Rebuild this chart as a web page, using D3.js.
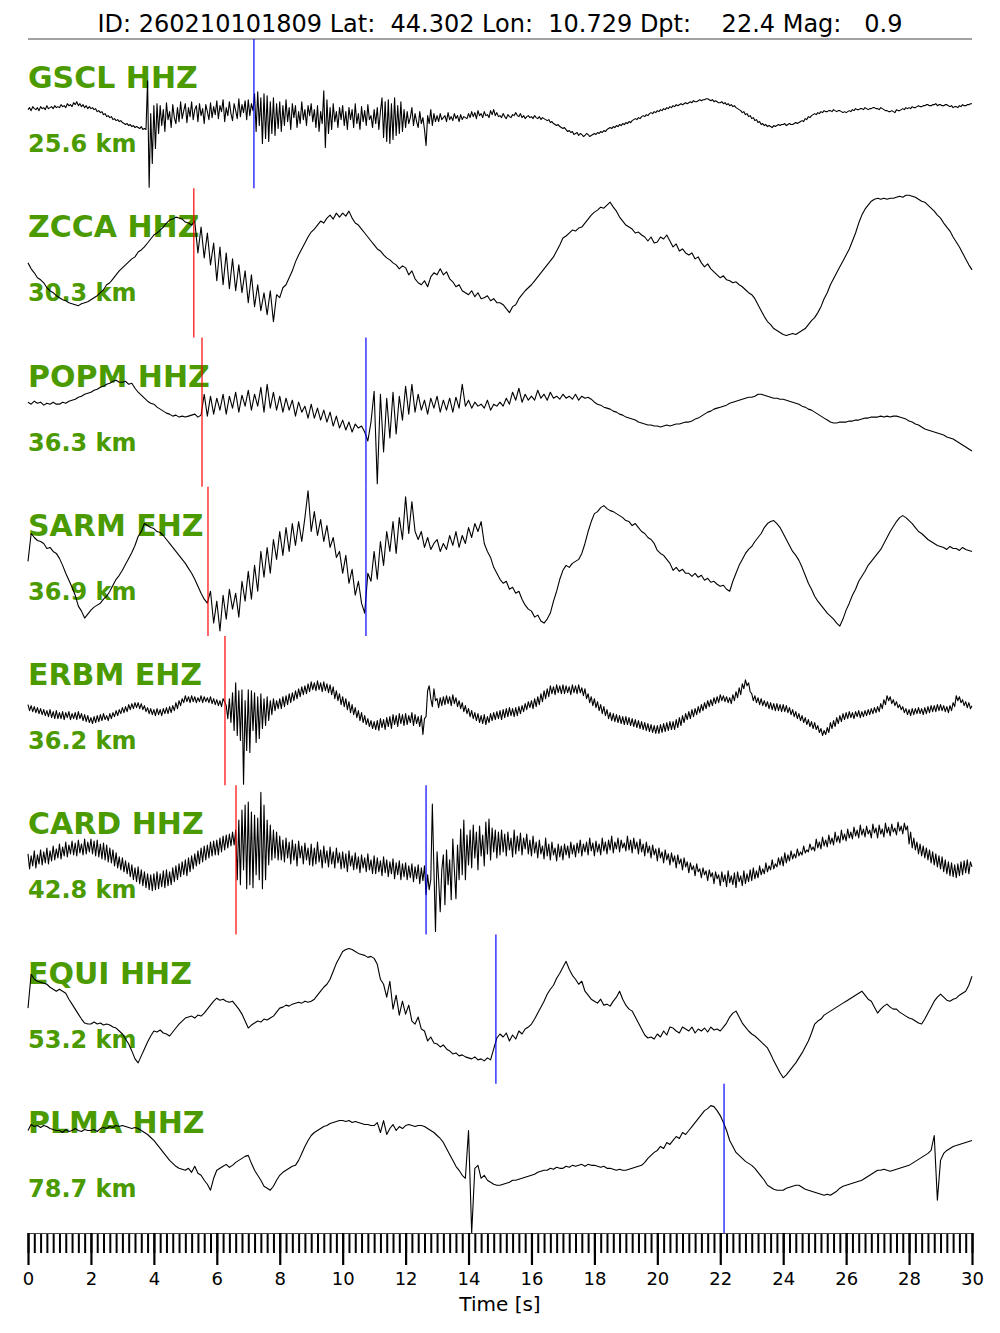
<!DOCTYPE html>
<html><head><meta charset="utf-8">
<script src="https://cdn.jsdelivr.net/npm/d3@7"></script>
<style>body{margin:0;background:#fff} svg{display:block}</style>
</head><body>
<svg id="chart" width="1000" height="1333"></svg>
<script>
const titleText = "ID: 260210101809 Lat:  44.302 Lon:  10.729 Dpt:    22.4 Mag:   0.9";
const stations = ["GSCL HHZ","ZCCA HHZ","POPM HHZ","SARM EHZ","ERBM EHZ","CARD HHZ","EQUI HHZ","PLMA HHZ"];
const distances = ["25.6 km","30.3 km","36.3 km","36.9 km","36.2 km","42.8 km","53.2 km","78.7 km"];
const pPicks = [null, 5.27, 5.53, 5.72, 6.26, 6.61, null, null];
const sPicks = [7.18, null, 10.74, 10.74, null, 12.65, 14.87, 22.12];
const tickLabels = [0,2,4,6,8,10,12,14,16,18,20,22,24,26,28,30];
const timeLabel = "Time [s]";

const traceGSCL = [
4,6,3,7,5,4,6,3,7,5,6,4,8,5,6,7,5,8,6,7,
6,9,7,8,6,10,8,9,7,11,9,12,8,10,7,9,6,8,5,7,
5,6,4,5,2,3,1,2,-1,0,-3,-2,-4,-3,-6,-5,-7,-6,-8,-7,
-9,-10,-11,-10,-12,-11,-13,-12,-14,-13,-14,-15,-13,-16,-15,-16,33,-74,0,-50,
8,-35,10,-20,8,-12,4,-18,11,-6,2,-14,9,-4,-10,6,-8,12,-5,3,
10,-9,6,-3,12,-6,4,8,-8,10,-2,5,-10,9,2,-6,11,-4,7,-1,
13,-5,8,2,14,-8,6,-2,12,0,-7,10,3,-5,15,-3,9,1,13,-6,
14,-2,10,3,20,-18,22,-12,16,-30,20,-25,18,-28,12,-20,16,-22,10,-15,
12,-18,8,-12,14,-8,6,-16,10,-4,8,-14,2,-10,12,-6,4,-12,8,-2,
10,-8,4,-14,8,-18,2,-10,23,-34,14,-20,6,-16,10,-8,2,-14,6,-6,
8,-12,2,-16,6,-6,4,-14,10,-10,0,-16,7,-8,3,-12,9,-6,-2,-14,
4,-10,6,-16,2,16,-24,12,-28,14,-30,10,-26,16,-22,8,-20,12,-18,4,
-14,2,-10,-4,6,-12,0,-8,-14,2,-10,-4,-16,-32,-2,-10,4,-12,0,-8,
-2,-8,0,-6,-4,-2,-8,1,-6,-3,-7,0,-5,-2,-8,-1,-6,-3,-4,-5,
0,-4,2,-3,1,-5,3,-2,0,-4,2,-2,-1,-4,3,-1,4,-2,1,-3,
-2,-4,0,-3,-5,-1,-3,-4,-1,-2,1,-2,-3,0,-4,-2,-5,-3,-2,-4,
-3,-5,-2,-4,-5,-3,-6,-4,-5,-6,-7,-6,-9,-8,-10,-11,-12,-11,-13,-14,
-15,-14,-16,-18,-17,-19,-18,-21,-20,-19,-22,-20,-21,-23,-22,-20,-21,-23,-22,-21,
-20,-21,-19,-20,-18,-19,-17,-18,-16,-15,-14,-15,-13,-14,-12,-13,-11,-12,-10,-11,
-9,-10,-8,-9,-7,-6,-5,-6,-4,-5,-3,-2,-3,-1,-2,0,1,0,2,1,
3,2,4,3,5,4,6,5,7,6,8,7,9,8,9,10,9,10,11,10,
11,12,11,13,12,12,13,14,13,14,14,15,15,14,13,14,12,13,12,11,
11,12,10,11,9,10,8,9,7,8,6,5,4,3,1,2,-1,0,-3,-2,
-5,-4,-7,-6,-9,-8,-11,-10,-12,-11,-13,-12,-13,-14,-12,-13,-12,-11,-12,-11,
-11,-10,-12,-11,-10,-11,-11,-10,-9,-10,-9,-8,-7,-8,-5,-6,-3,-4,-2,-1,
0,-1,1,0,2,1,3,2,2,3,3,2,4,3,2,3,3,2,1,2,
1,2,3,2,4,3,5,4,4,5,5,4,6,5,4,5,5,6,6,5,
5,4,6,5,4,3,3,2,2,3,2,1,4,3,3,4,5,4,6,5,
6,5,7,6,6,7,8,7,7,8,8,9,9,8,8,9,9,10,8,9,
9,8,8,9,9,8,7,8,6,7,7,6,8,7,9,8,8,9,9,10,
10];

const traceZCCA = [
0,-6,-10,-15,-17,-20,-25,-28,-30,-33,
-35,-37,-38,-40,-41,-42,-43,-41,-40,-39,
-37,-35,-33,-30,-27,-22,-20,-16,-12,-8,
-5,-2,1,4,6,11,13,16,20,24,
28,30,33,36,40,43,44,46,45,44,
41,40,38,42,10,36,5,30,-2,20,
-18,16,-22,10,-26,4,-28,-2,-30,-8,
-40,-12,-44,-22,-48,-30,-52,-28,-59,-32,
-35,-25,-22,-15,-8,1,8,14,20,26,
31,34,38,42,40,45,48,44,50,46,
50,47,52,45,40,38,34,30,26,22,
18,14,12,8,5,3,0,-2,-6,-3,
-5,-12,-8,-16,-20,-22,-18,-24,-14,-10,
-12,-6,-12,-9,-16,-19,-24,-22,-28,-30,
-32,-28,-34,-30,-36,-35,-33,-38,-36,-40,
-40,-42,-46,-50,-44,-42,-36,-32,-28,-25,
-22,-18,-14,-10,-6,-2,2,6,12,18,
25,27,30,33,32,35,36,40,44,48,
51,53,56,55,58,61,56,52,46,42,
38,36,34,30,31,28,26,22,26,20,
21,26,24,28,22,16,19,12,14,10,
8,10,4,6,0,-4,-1,-6,-9,-12,
-15,-13,-17,-18,-20,-19,-22,-24,-27,-30,
-32,-36,-42,-48,-54,-59,-62,-66,-68,-70,
-72,-73,-72,-71,-72,-70,-68,-66,-62,-58,
-55,-50,-44,-36,-30,-22,-16,-10,-4,2,
8,14,22,30,40,48,54,58,62,64,
65,64,65,64,65,65,66,67,66,68,
68,67,66,64,62,61,58,55,52,48,
45,40,36,32,26,21,16,10,4,-2,
-7];

const tracePOPM = [
10,8,11,9,10,7,9,8,10,8,
8,10,9,11,12,13,15,16,18,19,
20,22,23,25,26,28,29,31,32,30,
30,31,28,29,24,20,17,14,11,9,
8,5,3,1,-1,-2,-4,-3,-5,-4,
-5,-4,-3,-2,-5,-3,18,-4,16,-2,
14,2,18,-2,16,4,20,0,17,6,
22,2,18,6,25,0,28,4,20,2,
16,0,14,2,12,-4,10,0,6,-6,
8,-6,4,-8,2,-10,0,-14,-4,-16,
-8,-18,-10,-20,-12,-16,-14,-20,-29,-10,
21,-72,18,-40,14,-26,20,-22,16,-8,
26,-2,28,0,18,2,12,-2,14,4,
16,0,12,2,14,0,15,4,28,6,
12,4,10,6,8,4,12,2,8,6,
10,6,14,8,20,12,24,10,18,12,
16,12,22,14,18,12,20,14,16,13,
18,14,16,13,18,12,16,14,15,13,
10,8,7,5,4,3,1,0,-2,-3,
-5,-6,-7,-8,-10,-11,-12,-13,-13,-14,
-14,-15,-14,-13,-14,-13,-12,-12,-11,-10,
-10,-9,-7,-6,-4,-2,0,1,3,4,
5,6,7,9,10,11,12,13,14,15,
15,16,18,18,17,16,15,14,14,13,
13,12,11,10,9,8,6,5,3,2,
0,-2,-4,-6,-8,-10,-11,-11,-10,-10,
-10,-9,-9,-8,-8,-7,-6,-6,-5,-5,
-5,-4,-5,-4,-5,-4,-4,-5,-6,-7,
-9,-10,-12,-13,-15,-17,-18,-19,-20,-21,
-22,-23,-25,-26,-27,-29,-31,-33,-35,-37,
-39];

const traceSARM = [
0,28,24,21,20,18,13,14,10,8,
3,-4,-12,-19,-26,-34,-45,-50,-57,-53,
-49,-46,-44,-42,-38,-35,-30,-24,-18,-14,
-9,-3,3,9,16,25,30,38,36,34,
33,30,29,26,22,18,14,10,6,2,
-2,-7,-12,-18,-25,-32,-38,-42,-30,-62,
-40,-70,-34,-58,-28,-48,-32,-56,-20,-40,
-10,-38,-4,-30,10,-16,14,-12,22,2,
30,6,34,10,38,16,40,20,44,71,
30,50,26,42,20,36,14,24,4,10,
-12,6,-22,-8,-34,-20,-42,-52,-12,-20,
10,-18,20,-4,30,10,40,8,44,22,
65,28,60,30,22,30,14,24,12,18,
22,10,18,12,26,16,30,14,26,18,
34,24,38,30,40,18,10,4,-6,-12,
-18,-22,-20,-28,-26,-32,-30,-38,-44,-48,
-50,-56,-54,-60,-62,-58,-52,-40,-30,-18,
-9,-4,-6,-2,0,2,8,18,30,40,
48,50,54,56,53,51,50,48,46,44,
41,40,36,38,34,30,28,24,22,18,
11,8,6,2,-2,-9,-6,-10,-8,-12,
-12,-15,-12,-16,-14,-19,-17,-21,-20,-23,
-25,-24,-28,-30,-20,-12,-4,2,8,12,
15,20,24,28,34,38,40,41,38,34,
28,22,16,10,6,1,-6,-14,-22,-28,
-35,-40,-44,-48,-52,-55,-58,-62,-65,-58,
-49,-42,-34,-28,-20,-15,-10,-4,0,4,
8,12,18,24,30,35,40,44,46,44,
41,38,34,30,28,25,22,20,18,16,
15,14,12,15,13,13,11,14,12,11,
10];

const traceERBM = [
6,0,5,-1,4,-2,3,-3,2,-4,1,-5,0,-6,1,-7,-1,-8,0,-8,
-2,-8,-1,-9,-2,-7,-1,-9,-3,-8,-2,-9,-1,-8,-3,-10,-4,-11,-5,-12,
-7,-13,-6,-12,-5,-11,-4,-10,-3,-9,-5,-10,-3,-8,-2,-6,0,-5,1,-3,
3,-2,4,-1,6,1,7,2,8,3,8,2,7,1,5,-1,3,-3,2,-4,
1,-5,2,-4,1,-5,2,-3,3,-3,4,-2,5,0,8,2,10,5,12,8,
15,9,14,8,15,9,14,8,13,9,15,8,14,9,13,8,14,7,12,6,
11,5,10,4,12,9,5,-8,12,-12,18,-20,28,-25,20,-30,21,-74,10,-40,
21,-42,20,-20,18,-32,14,-28,17,-18,12,-15,14,-10,10,-4,12,0,10,2,
12,2,14,4,15,6,17,8,18,10,20,12,22,14,24,16,25,17,27,19,
29,21,28,20,30,21,28,19,29,20,27,18,26,16,24,12,20,10,17,6,
14,4,12,1,9,-2,6,-4,3,-7,0,-10,-2,-12,-5,-14,-8,-16,-10,-18,
-11,-19,-10,-20,-8,-17,-9,-19,-7,-16,-6,-18,-4,-14,-5,-16,-3,-13,-4,-15,
-3,-14,-5,-12,-2,-15,-4,-13,-6,-16,-5,-24,-8,-6,20,25,12,4,22,10,
12,3,13,5,14,6,15,7,14,5,16,7,13,4,10,2,8,-1,5,-3,
2,-6,0,-8,-2,-10,-3,-12,-5,-13,-4,-14,-6,-12,-3,-10,-2,-9,-1,-8,
0,-9,1,-7,2,-6,3,-5,2,-6,3,-5,4,-3,5,-1,7,1,9,3,
10,2,12,4,14,6,17,9,20,12,22,14,25,17,24,16,26,18,25,17,
26,17,25,18,24,16,26,18,25,17,26,18,23,15,22,12,17,8,14,5,
12,3,9,0,6,-3,4,-5,1,-8,-2,-10,-3,-11,-4,-12,-5,-13,-6,-14,
-6,-14,-7,-15,-8,-16,-9,-17,-10,-18,-11,-19,-12,-20,-13,-21,-14,-22,-15,-23,
-15,-23,-14,-22,-13,-21,-12,-20,-11,-19,-11,-19,-9,-17,-7,-15,-5,-12,-3,-9,
-1,-8,1,-6,2,-4,4,-2,6,0,8,2,10,4,11,5,13,7,14,8,
16,10,15,9,14,8,13,7,16,10,19,13,23,16,27,22,31,25,28,19,
17,10,15,8,13,6,12,5,10,4,9,2,8,1,7,0,7,0,6,-1,
6,-1,5,-2,3,-4,1,-6,-1,-8,-3,-10,-5,-12,-7,-14,-9,-16,-11,-18,
-12,-19,-15,-22,-18,-25,-20,-24,-17,-22,-12,-18,-10,-16,-7,-13,-5,-11,-3,-9,
-2,-8,-1,-7,-2,-8,-1,-6,0,-7,-1,-6,0,-5,1,-4,2,-3,3,-2,
4,-1,7,2,11,6,15,10,14,7,11,5,9,3,6,1,4,-2,2,-4,
1,-5,2,-4,2,-3,3,-3,2,-4,3,-3,4,-2,5,-1,5,-1,6,0,
6,0,5,-1,4,-2,5,0,8,4,15,10,14,8,11,5,9,3,8,2,
5];

const traceCARD = [
6,-9,4,-6,9,-8,5,-4,10,-5,8,-3,12,-4,9,-1,14,0,11,2,
16,1,13,4,18,3,15,6,19,5,17,4,20,7,16,5,21,6,18,8,
21,6,19,4,20,3,16,1,17,0,15,-2,12,-3,10,-6,7,-8,3,-10,
2,-12,-1,-14,-3,-17,-5,-20,-8,-22,-7,-24,-10,-26,-12,-28,-14,-30,-15,-31,
-14,-30,-12,-29,-14,-27,-11,-28,-10,-26,-12,-25,-8,-22,-6,-20,-4,-17,-2,-15,
0,-16,2,-12,4,-9,6,-6,9,-4,12,-2,14,0,15,2,18,4,19,5,
20,5,22,8,24,10,25,12,26,14,28,15,30,-20,40,-25,50,-10,55,-29,
58,-25,48,-28,45,-15,42,-20,68,-29,55,-20,40,-5,35,0,30,2,28,0,
24,0,20,-2,22,2,18,-4,20,0,16,-6,19,2,14,-4,17,0,12,-5,
16,-6,12,-4,18,-2,10,-8,14,-3,9,-7,13,-4,8,-8,12,-3,7,-9,
8,-8,6,-12,9,-6,4,-10,7,-9,3,-13,5,-8,2,-12,6,-10,0,-14,
4,-14,2,-12,-1,-16,3,-13,0,-17,-2,-14,1,-19,-3,-15,-1,-20,-4,-17,
-3,-20,-6,-18,-4,-22,-7,-19,-5,-24,-8,-21,-6,-35,-15,-30,-20,56,-10,-72,
8,-20,-52,-10,5,-45,10,-25,0,-40,21,-10,-39,15,-20,31,-15,40,-20,25,
-5,30,-8,35,2,28,-10,34,4,25,-6,38,6,41,0,32,8,30,2,28,
5,30,8,26,4,28,10,22,3,30,6,24,9,27,5,22,11,26,6,20,
4,24,7,18,2,20,6,14,1,22,4,16,0,18,5,12,-1,16,3,14,
0,16,5,14,2,18,6,15,3,17,7,20,4,16,8,18,5,22,9,17,
4,19,8,16,5,22,9,18,6,20,10,24,7,18,11,22,8,20,12,17,
9,24,10,20,7,22,11,18,6,21,8,16,4,18,7,14,2,15,5,11,
-1,12,2,8,-3,10,0,6,-5,7,-2,4,-8,5,-4,1,-10,2,-7,-2,
-13,-3,-10,-6,-16,-4,-12,-9,-18,-8,-15,-11,-21,-10,-17,-13,-24,-12,-19,-15,
-26,-12,-22,-15,-27,-11,-23,-16,-25,-13,-28,-12,-22,-16,-26,-11,-24,-14,-22,-10,
-21,-8,-19,-11,-18,-6,-15,-9,-14,-3,-12,-6,-10,0,-9,-4,-7,2,-5,3,
-6,7,-3,5,-1,9,1,6,2,11,4,8,5,14,7,10,8,16,10,13,
9,21,12,18,11,23,14,20,13,25,16,22,15,28,18,24,17,30,20,26,
19,31,22,28,21,33,24,30,22,35,25,31,23,34,26,30,22,36,27,32,
22,35,26,31,23,37,27,33,24,36,28,32,25,38,29,34,26,37,30,34,
16,28,12,22,10,18,6,16,4,14,2,12,0,10,-3,8,-5,6,-7,4,
-9,3,-12,0,-14,-2,-16,-3,-17,-5,-18,-4,-16,-2,-15,-1,-13,0,-14,-2,
-7];

const traceEQUI = [
1,35,30,28,27,26,25,22,20,18,
20,18,16,10,5,0,-5,-10,-14,-15,
-15,-13,-15,-14,-16,-15,-16,-18,-19,-22,
-25,-30,-35,-42,-50,-54,-47,-40,-33,-27,
-22,-23,-21,-24,-25,-27,-23,-19,-15,-12,
-9,-8,-7,-9,-6,-7,-4,0,4,8,
11,9,10,8,7,8,4,0,-5,-12,
-19,-16,-14,-12,-13,-10,-11,-9,-7,-3,
1,2,4,3,5,6,7,6,8,7,
8,10,14,18,22,25,30,38,46,52,
58,60,61,60,58,56,55,54,52,53,
51,45,30,25,12,28,0,14,-6,8,
-5,4,-12,-15,-8,-20,-22,-32,-28,-34,
-35,-38,-36,-40,-42,-45,-44,-47,-46,-48,
-49,-50,-48,-51,-50,-52,-49,-51,-40,-29,
-25,-28,-24,-32,-26,-30,-22,-25,-20,-18,
-15,-10,-4,2,8,15,20,24,31,36,
42,48,40,34,30,25,28,18,14,10,
8,6,10,4,5,3,8,12,18,10,
4,0,-2,-8,-14,-20,-26,-29,-28,-30,
-25,-28,-22,-26,-18,-19,-22,-24,-18,-20,
-22,-18,-24,-20,-22,-19,-23,-18,-21,-20,
-22,-18,-14,-8,-4,-2,-8,-14,-18,-22,
-25,-27,-30,-33,-36,-39,-45,-52,-58,-64,
-69,-66,-62,-58,-54,-49,-44,-38,-32,-24,
-15,-12,-10,-6,-4,-2,0,2,4,6,
8,10,12,14,16,18,14,10,8,2,
-4,0,3,5,2,0,0,-3,-5,-7,
-9,-10,-12,-14,-15,-10,-4,2,8,12,
15,12,9,8,10,11,14,16,18,24,
33];

const tracePLMA = [
28,34,32,33,31,33,32,30,29,28,
28,26,29,27,28,30,28,27,29,28,
28,29,27,30,31,30,32,31,33,32,
33,32,31,30,31,30,28,26,24,21,
18,14,10,6,2,-2,-5,-8,-10,-11,
-12,-10,-14,-8,-15,-17,-22,-26,-32,-20,
-12,-10,-8,-6,-9,-7,-4,-2,0,2,
3,-5,-12,-17,-22,-28,-30,-32,-28,-22,
-17,-14,-12,-10,-8,-7,-2,5,12,18,
23,26,28,30,32,33,35,36,37,38,
38,37,38,36,37,36,35,34,34,33,
33,36,26,38,24,30,34,28,32,30,
33,34,33,32,33,33,32,30,28,26,
23,20,16,10,4,-2,-8,-12,-17,-20,
28,-75,-10,-7,-20,-17,-22,-24,-26,-27,
-27,-26,-25,-24,-22,-22,-21,-20,-19,-18,
-17,-16,-14,-13,-12,-12,-10,-11,-9,-10,
-10,-8,-9,-7,-8,-7,-6,-8,-6,-7,
-7,-8,-9,-8,-10,-10,-11,-12,-11,-12,
-12,-11,-10,-9,-8,-7,-4,0,3,6,
8,12,10,16,14,18,22,20,26,24,
28,32,36,40,44,48,50,53,52,48,
43,36,28,18,12,6,3,0,-3,-5,
-7,-10,-14,-18,-22,-27,-29,-31,-32,-32,
-32,-30,-29,-28,-27,-27,-29,-31,-32,-33,
-34,-35,-36,-37,-36,-37,-35,-33,-30,-28,
-27,-26,-25,-24,-23,-22,-20,-18,-16,-14,
-12,-12,-11,-12,-13,-12,-11,-10,-9,-8,
-7,-5,-3,-1,1,3,5,8,23,-42,
-2,5,8,10,12,13,14,15,16,17,
18];

const traces = [traceGSCL, traceZCCA, tracePOPM, traceSARM, traceERBM, traceCARD, traceEQUI, tracePLMA];

const W = 1000, H = 1333;
const plotLeft = 28, plotRight = 972, plotTop = 39, plotBottom = 1233;
const panelH = (plotBottom - plotTop) / stations.length;
const green = "#4a9a00";

const svg = d3.select("#chart");
svg.append("rect").attr("width", W).attr("height", H).attr("fill", "#fff");

const x = d3.scaleLinear().domain([0, 30]).range([plotLeft, plotRight]);

svg.append("text")
  .attr("x", (plotLeft + plotRight) / 2).attr("y", 32)
  .attr("text-anchor", "middle")
  .attr("xml:space", "preserve")
  .style("white-space", "pre")
  .attr("font-family", "DejaVu Sans")
  .attr("font-size", 24)
  .attr("fill", "#000")
  .text(titleText);

svg.append("line").attr("x1", plotLeft).attr("x2", plotRight).attr("y1", plotTop).attr("y2", plotTop)
  .attr("stroke", "#444").attr("stroke-width", 1.2);

stations.forEach((name, k) => {
  const pTop = plotTop + k * panelH;
  const y = d3.scaleLinear().domain([-75, 75]).range([pTop + panelH, pTop]);
  const g = svg.append("g");
  g.append("text").attr("x", plotLeft).attr("y", pTop + 49)
    .attr("font-family", "DejaVu Sans").attr("font-weight", "bold")
    .attr("font-size", 30).attr("fill", green).text(name);
  g.append("text").attr("x", plotLeft).attr("y", pTop + 113)
    .attr("font-family", "DejaVu Sans").attr("font-weight", "bold")
    .attr("font-size", 24).attr("fill", green).text(distances[k]);
  const data = traces[k];
  const n = data.length;
  const line = d3.line().x((d, i) => x(i * 30 / (n - 1))).y(d => y(d));
  g.append("path").datum(data).attr("d", line)
    .attr("fill", "none").attr("stroke", "#000").attr("stroke-width", 1.1)
    .attr("stroke-linejoin", "round");
  if (pPicks[k] != null) {
    g.append("line").attr("x1", x(pPicks[k])).attr("x2", x(pPicks[k]))
      .attr("y1", pTop).attr("y2", pTop + panelH)
      .attr("stroke", "#ff0000").attr("stroke-width", 1.2);
  }
  if (sPicks[k] != null) {
    g.append("line").attr("x1", x(sPicks[k])).attr("x2", x(sPicks[k]))
      .attr("y1", pTop).attr("y2", pTop + panelH)
      .attr("stroke", "#0000ff").attr("stroke-width", 1.2);
  }
});

const minorAxis = d3.axisBottom(x).tickValues(d3.range(0, 30.001, 0.2)).tickSize(20).tickFormat("");
const gMinor = svg.append("g").attr("transform", `translate(0,${plotBottom})`).call(minorAxis);
gMinor.select(".domain").remove();
gMinor.selectAll(".tick line").attr("stroke", "#000").attr("stroke-width", 2);

const majorAxis = d3.axisBottom(x).tickValues(tickLabels).tickSize(32).tickPadding(7).tickFormat(d3.format("d"));
const gMajor = svg.append("g").attr("transform", `translate(0,${plotBottom})`).call(majorAxis);
gMajor.select(".domain").attr("d", `M${plotLeft},0.5H${plotRight}`).attr("stroke", "#444").attr("stroke-width", 1.2);
gMajor.selectAll(".tick line").attr("stroke", "#000").attr("stroke-width", 2.2);
gMajor.selectAll(".tick text").attr("font-family", "DejaVu Sans").attr("font-size", 18).attr("fill", "#000");

svg.append("text").attr("x", (plotLeft + plotRight) / 2).attr("y", 1311)
  .attr("text-anchor", "middle").attr("font-family", "DejaVu Sans")
  .attr("font-size", 20).attr("fill", "#000").text(timeLabel);
</script>
</body></html>
